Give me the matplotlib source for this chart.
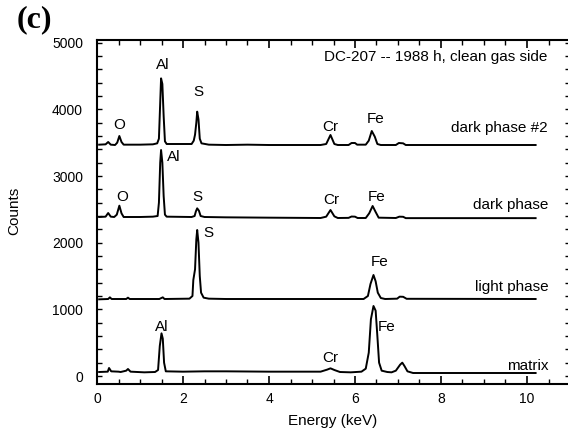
import numpy as np
import matplotlib.pyplot as plt

plt.rcParams['font.family'] = ['Liberation Sans', 'DejaVu Sans']

# EDS spectra (energy in keV, counts incl. vertical offset)
# dark phase #2
e_dark2 = [0.05, 0.2, 0.26, 0.32, 0.42, 0.47, 0.52, 0.57, 0.62, 1.0, 1.3, 1.40, 1.44,
           1.47, 1.49, 1.52, 1.55, 1.58, 1.62, 2.0, 2.20, 2.25, 2.28, 2.31, 2.33, 2.36,
           2.39, 2.43, 2.6, 3.0, 3.5, 4.0, 4.5, 5.2, 5.33, 5.43, 5.52, 5.6, 5.85, 5.92,
           6.0, 6.05, 6.25, 6.32, 6.39, 6.46, 6.52, 6.6, 6.95, 7.02, 7.12, 7.18, 10.2]
c_dark2 = [3470, 3475, 3510, 3470, 3465, 3500, 3600, 3510, 3470, 3470, 3475, 3490, 3560,
           4100, 4465, 4380, 3900, 3520, 3480, 3480, 3480, 3530, 3620, 3800, 3965, 3850,
           3560, 3490, 3470, 3465, 3470, 3465, 3465, 3465, 3480, 3615, 3480, 3465, 3465, 3495,
           3495, 3470, 3470, 3530, 3675, 3590, 3480, 3465, 3465, 3495, 3490, 3465, 3465]

# dark phase
e_dark = [0.05, 0.2, 0.26, 0.32, 0.40, 0.46, 0.52, 0.57, 0.62, 1.0, 1.3, 1.41, 1.44,
          1.47, 1.49, 1.52, 1.55, 1.58, 1.62, 2.2, 2.27, 2.30, 2.33, 2.37, 2.41, 2.5,
          3.0, 4.0, 5.2, 5.33, 5.43, 5.52, 5.6, 5.85, 5.92, 6.0, 6.06, 6.25, 6.33, 6.41,
          6.48, 6.55, 6.95, 7.03, 7.12, 7.18, 10.2]
c_dark = [2385, 2390, 2445, 2390, 2385, 2420, 2555, 2440, 2385, 2385, 2390, 2400, 2600,
          3200, 3390, 3200, 2700, 2420, 2390, 2385, 2400, 2470, 2515, 2480, 2400, 2385,
          2380, 2375, 2370, 2390, 2490, 2395, 2370, 2372, 2392, 2390, 2370, 2370, 2440, 2550,
          2460, 2375, 2370, 2390, 2388, 2368, 2368]

# light phase
e_light = [0.05, 0.26, 0.30, 0.34, 0.68, 0.72, 0.76, 1.45, 1.53, 1.57, 2.15, 2.22, 2.24,
           2.28, 2.31, 2.33, 2.36, 2.39, 2.42, 2.48, 2.6, 3.0, 5.0, 6.2, 6.30, 6.36, 6.43,
           6.48, 6.53, 6.6, 6.7, 6.98, 7.04, 7.12, 7.2, 10.2]
c_light = [1150, 1155, 1180, 1155, 1155, 1175, 1155, 1155, 1180, 1155, 1160, 1200, 1440,
           1600, 2050, 2190, 2000, 1500, 1250, 1175, 1160, 1155, 1155, 1155, 1200, 1380, 1515,
           1420, 1250, 1170, 1155, 1160, 1190, 1188, 1158, 1155]

# matrix
e_matrix = [0.05, 0.25, 0.28, 0.33, 0.5, 0.55, 0.68, 0.72, 0.78, 1.1, 1.35, 1.42, 1.46,
            1.50, 1.53, 1.56, 1.60, 2.0, 2.5, 3.0, 4.0, 4.8, 5.2, 5.35, 5.43, 5.52, 5.65,
            5.9, 6.15, 6.25, 6.32, 6.37, 6.43, 6.48, 6.52, 6.56, 6.62, 6.75, 6.85, 6.95,
            7.05, 7.10, 7.15, 7.22, 7.35, 10.2]
c_matrix = [60, 65, 120, 70, 65, 60, 80, 105, 65, 55, 60, 90, 450,
            640, 560, 200, 70, 65, 70, 70, 65, 65, 65, 95, 115, 90, 60,
            55, 65, 110, 350, 850, 1050, 980, 600, 200, 80, 60, 55, 80,
            170, 200, 150, 70, 45, 45]

# peak labels: (text, energy, counts)
peak_labels = [("O", 0.52, 3765), ("Al", 1.53, 4665), ("S", 2.37, 4260),
               ("Cr", 5.42, 3735), ("Fe", 6.47, 3855),
               ("O", 0.58, 2690), ("Al", 1.79, 3290), ("S", 2.33, 2690),
               ("Cr", 5.46, 2640), ("Fe", 6.51, 2690),
               ("S", 2.58, 2150), ("Fe", 6.58, 1715),
               ("Al", 1.50, 730), ("Cr", 5.43, 275), ("Fe", 6.74, 735)]

# trace names, right aligned
trace_names = ["dark phase #2", "dark phase", "light phase", "matrix"]
name_pos = [(10.47, 3720), (10.5, 2565), (10.5, 1330), (10.5, 150)]

fig = plt.figure(figsize=(5.68, 4.33), dpi=100)
ax = fig.add_axes([97 / 568, 1 - 384 / 433, (570 - 97) / 568, (384 - 40) / 433])

for e, c in [(e_dark2, c_dark2), (e_dark, c_dark), (e_light, c_light), (e_matrix, c_matrix)]:
    ax.plot(e, c, color='black', lw=1.4)

for s, x, y in peak_labels:
    ax.text(x, y, s, ha='center', va='center', fontsize=11)

for s, (x, y) in zip(trace_names, name_pos):
    ax.text(x, y, s, ha='right', va='center', fontsize=11)

ax.text(10.47, 4785, "DC-207 -- 1988 h, clean gas side", ha='right', va='center', fontsize=11)

ax.set_xlim(0, 11)
ax.set_ylim(-120, 5040)
ax.set_xticks(np.arange(0, 11, 2))
ax.set_xticks(np.arange(0, 11.01, 0.5), minor=True)
ax.set_yticks(np.arange(0, 5001, 1000))
ax.set_yticks(np.arange(0, 5001, 200), minor=True)
ax.tick_params(which='both', direction='in', top=True, right=True, labelsize=10)
ax.tick_params(axis='x', which='major', length=6, width=1.2, pad=6)
ax.tick_params(axis='x', which='minor', length=3.5, width=1.0)
ax.tick_params(axis='y', which='both', length=3.5, width=1.0, pad=10)
for sp in ax.spines.values():
    sp.set_linewidth(1.5)

fig.text(14 / 568, 1 - 211 / 433, "Counts", rotation=90, ha='center', va='center', fontsize=11)
fig.text(333 / 568, 1 - 421 / 433, "Energy (keV)", ha='center', va='center', fontsize=11)
fig.text(34 / 568, 1 - 20 / 433, "(c)", ha='center', va='center', fontsize=23,
         fontweight='bold', family='Liberation Serif')

fig.savefig("out.png", dpi=100)
